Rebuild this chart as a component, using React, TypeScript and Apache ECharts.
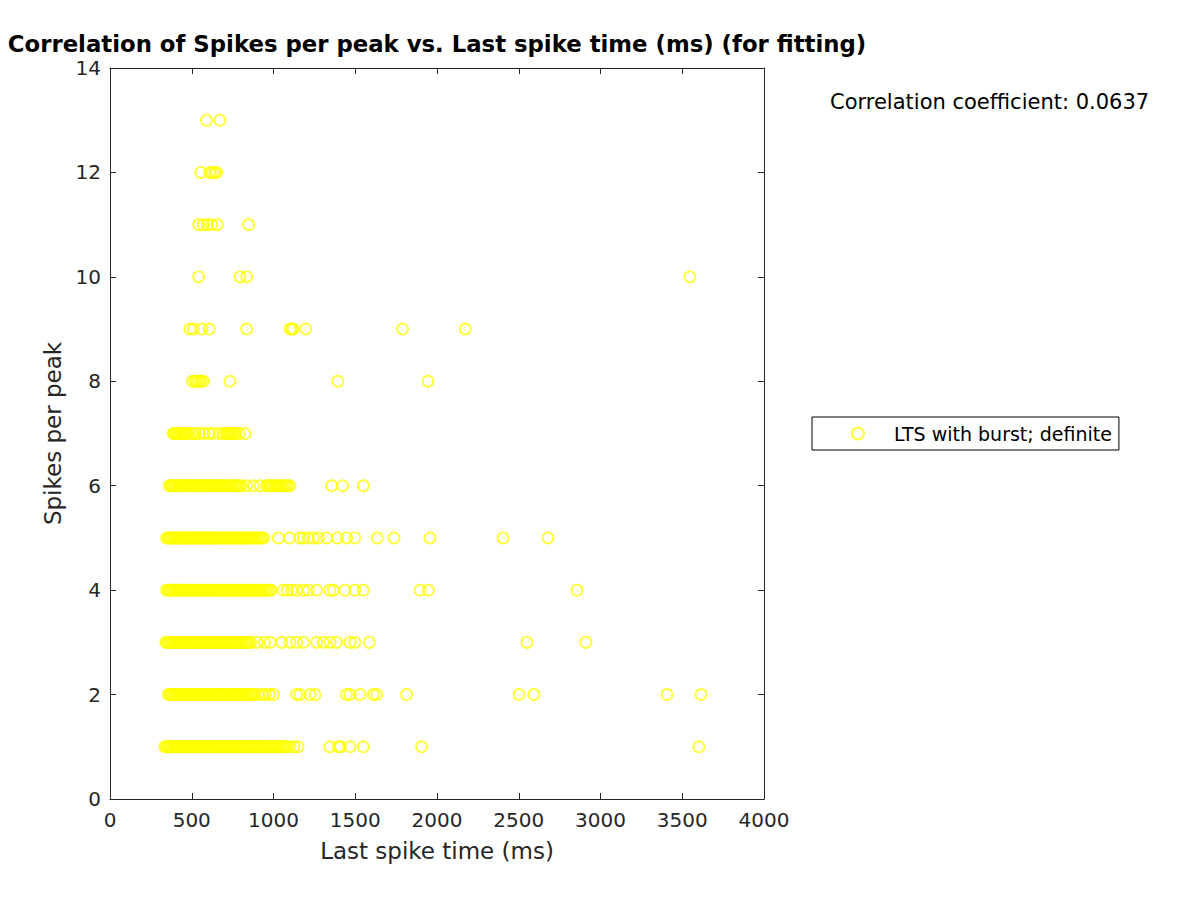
import React, { useEffect, useRef } from "react";
import * as echarts from "echarts";

// Last spike time (ms) for each "spikes per peak" level
const spikes1 = [336, 345, 354, 362, 371, 380, 388, 397, 405, 414, 423, 431, 440, 449, 457, 466, 475, 483, 492, 501, 510, 519, 528, 537, 546, 555, 564, 573, 582, 592, 601, 610, 620, 629, 639, 648, 658, 667, 677, 687, 696, 706, 716, 726, 736, 746, 756, 766, 776, 786, 796, 806, 816, 826, 837, 847, 857, 868, 878, 888, 899, 909, 920, 930, 941, 951, 962, 972, 983, 993, 1004, 1015, 1025, 1036, 1047, 1058, 1069, 1080, 1100, 1125, 1150, 1345, 1396, 1410, 1468, 1549, 1906, 3602];
const spikes2 = [357, 366, 374, 383, 391, 400, 408, 417, 425, 434, 443, 451, 460, 469, 477, 486, 495, 504, 513, 522, 531, 540, 549, 558, 567, 576, 585, 595, 604, 613, 623, 632, 642, 651, 661, 670, 680, 690, 699, 709, 719, 729, 739, 749, 759, 769, 779, 789, 799, 809, 820, 830, 840, 851, 861, 871, 880, 905, 930, 950, 975, 1000, 1142, 1162, 1223, 1254, 1447, 1468, 1529, 1610, 1631, 1814, 2502, 2593, 3407, 3615];
const spikes3 = [342, 351, 359, 368, 376, 385, 393, 402, 411, 419, 428, 437, 445, 454, 463, 472, 481, 490, 499, 508, 517, 526, 535, 544, 553, 563, 572, 581, 591, 600, 610, 619, 629, 638, 648, 658, 667, 677, 687, 697, 707, 717, 727, 737, 747, 757, 767, 777, 788, 798, 808, 818, 829, 839, 850, 860, 900, 945, 979, 1050, 1101, 1142, 1183, 1264, 1305, 1346, 1386, 1468, 1498, 1586, 2550, 2911];
const spikes4 = [347, 356, 364, 373, 381, 390, 398, 407, 416, 424, 433, 442, 450, 459, 468, 477, 486, 495, 504, 513, 522, 531, 540, 549, 559, 568, 577, 587, 596, 606, 615, 625, 634, 644, 654, 663, 673, 683, 693, 703, 713, 723, 733, 743, 753, 763, 773, 784, 794, 804, 815, 825, 835, 846, 856, 867, 877, 888, 898, 909, 920, 930, 941, 952, 963, 974, 985, 1060, 1085, 1111, 1142, 1183, 1213, 1264, 1345, 1366, 1437, 1498, 1549, 1896, 1947, 2856];
const spikes5 = [347, 355, 363, 372, 380, 389, 397, 406, 415, 423, 432, 441, 449, 458, 467, 476, 485, 494, 503, 512, 521, 530, 539, 548, 558, 567, 576, 586, 595, 605, 614, 624, 633, 643, 653, 662, 672, 682, 692, 702, 712, 722, 732, 742, 752, 762, 772, 783, 793, 803, 814, 824, 834, 845, 855, 866, 876, 887, 897, 908, 919, 929, 940, 1030, 1097, 1162, 1183, 1213, 1244, 1274, 1325, 1391, 1447, 1498, 1635, 1737, 1957, 2404, 2679];
const spikes6 = [363, 372, 380, 389, 397, 406, 415, 423, 432, 441, 450, 459, 468, 477, 486, 495, 504, 513, 523, 532, 541, 551, 560, 570, 579, 589, 599, 608, 618, 628, 638, 648, 658, 668, 678, 688, 698, 709, 719, 729, 740, 750, 761, 771, 782, 792, 803, 836, 877, 917, 958, 968, 979, 990, 1000, 1011, 1022, 1033, 1044, 1055, 1066, 1077, 1088, 1101, 1356, 1423, 1550];
const spikes7 = [387, 395, 403, 411, 419, 427, 435, 443, 451, 459, 467, 475, 500, 520, 546, 575, 606, 630, 667, 690, 709, 717, 725, 733, 741, 750, 758, 770, 790, 826];
const spikes8 = [505, 520, 532, 545, 558, 572, 734, 1394, 1945];
const spikes9 = [489, 510, 561, 607, 836, 1101, 1112, 1121, 1197, 1790, 2173];
const spikes10 = [542, 795, 836, 3547];
const spikes11 = [542, 571, 595, 622, 656, 848];
const spikes12 = [555, 610, 625, 640, 652];
const spikes13 = [591, 673];

const rows: [number, number[]][] = [
  [1, spikes1], [2, spikes2], [3, spikes3], [4, spikes4], [5, spikes5],
  [6, spikes6], [7, spikes7], [8, spikes8], [9, spikes9], [10, spikes10],
  [11, spikes11], [12, spikes12], [13, spikes13],
];

const seriesName = "LTS with burst; definite";
const titleText = "Correlation of Spikes per peak vs. Last spike time (ms) (for fitting)";
const corrText = "Correlation coefficient: 0.0637";

export default function App() {
  const ref = useRef<HTMLDivElement>(null);
  useEffect(() => {
    document.body.style.margin = "0";
    if (!ref.current) return;
    const chart = echarts.init(ref.current, undefined, { renderer: "svg" });
    const data: number[][] = [];
    rows.forEach(([y, xs]) => xs.forEach((x) => data.push([x, y])));
    const font = "DejaVu Sans";
    const axisColor = "#262626";
    const common = {
      min: 0,
      axisLine: { show: true, onZero: false, lineStyle: { color: axisColor, width: 1 } },
      axisTick: { show: true, inside: true, length: 6, lineStyle: { color: axisColor } },
      splitLine: { show: false },
    };
    const plain = (v: number) => String(v);
    chart.setOption({
      animation: false,
      backgroundColor: "#ffffff",
      textStyle: { fontFamily: font },
      title: {
        text: titleText,
        left: 437,
        top: 32,
        padding: 0,
        textAlign: "center",
        textStyle: { fontFamily: font, fontSize: 22.8, lineHeight: 23, fontWeight: "bold", color: "#000" },
      },
      grid: { left: 110, right: 436, top: 68, bottom: 101, containLabel: false },
      xAxis: [
        {
          ...common,
          type: "value",
          max: 4000,
          interval: 500,
          position: "bottom",
          name: "Last spike time (ms)",
          nameLocation: "middle",
          nameGap: 40,
          nameTextStyle: { fontFamily: font, fontSize: 23, color: axisColor },
          axisLabel: { fontFamily: font, fontSize: 20, color: axisColor, margin: 11, formatter: plain },
        },
        {
          ...common,
          type: "value",
          max: 4000,
          interval: 500,
          position: "top",
          axisLabel: { show: false },
        },
      ],
      yAxis: [
        {
          ...common,
          type: "value",
          max: 14,
          interval: 2,
          position: "left",
          name: "Spikes per peak",
          nameLocation: "middle",
          nameGap: 41,
          nameTextStyle: { fontFamily: font, fontSize: 23, color: axisColor },
          axisLabel: { fontFamily: font, fontSize: 20, color: axisColor, margin: 9, formatter: plain },
        },
        {
          ...common,
          type: "value",
          max: 14,
          interval: 2,
          position: "right",
          axisLabel: { show: false },
        },
      ],
      legend: {
        left: 812,
        top: 417,
        orient: "vertical",
        data: [{ name: seriesName, icon: "circle" }],
        itemWidth: 12,
        itemHeight: 12,
        padding: [7, 7, 7, 39],
        borderColor: "#000",
        borderWidth: 1,
        borderRadius: 0,
        backgroundColor: "#fff",
        textStyle: { fontFamily: font, fontSize: 19, color: "#000", lineHeight: 19, padding: [0, 0, 0, 25] },
      },
      graphic: [
        {
          type: "text",
          left: 830,
          top: 91,
          style: { text: corrText, fontFamily: font, fontSize: 21, fill: "#000" },
        },
      ],
      series: [
        {
          name: seriesName,
          type: "scatter",
          symbol: "circle",
          symbolSize: 11,
          itemStyle: { color: "rgba(0,0,0,0)", borderColor: "#ffff00", borderWidth: 1.8 },
          data,
        },
      ],
    });
    return () => chart.dispose();
  }, []);
  return <div ref={ref} style={{ width: 1200, height: 900 }} />;
}
